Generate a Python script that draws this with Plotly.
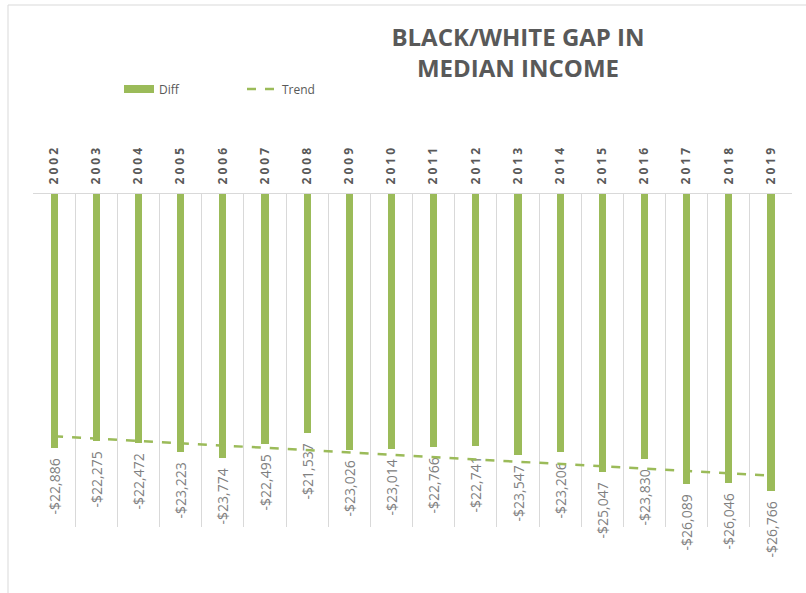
import numpy as np
import plotly.graph_objects as go

years = [2002, 2003, 2004, 2005, 2006, 2007, 2008, 2009, 2010,
         2011, 2012, 2013, 2014, 2015, 2016, 2017, 2018, 2019]
diff = [-22886, -22275, -22472, -23223, -23774, -22495, -21537, -23026, -23014,
        -22766, -22741, -23547, -23206, -25047, -23830, -26089, -26046, -26766]

GREEN = "#9BBB59"
GRAY = "#595959"
FONT = "Open Sans"

W, H = 806, 593
L, R, T, B = 33, 14, 194, 66
ph = H - T - B
pw = W - L - R

idx = list(range(len(years)))
labels = [f"-${abs(v):,}\u00a0\u00a0" for v in diff]
tick_text = [" ".join(str(y)) for y in years]

# linear trend (least squares, like a spreadsheet trendline)
coef = np.polyfit(idx, diff, 1)
trend = np.polyval(coef, idx)

fig = go.Figure()
# legend-only entry to get a wide bar swatch
fig.add_trace(go.Scatter(
    x=[None], y=[None], name="Diff", mode="lines",
    line=dict(color=GREEN, width=8), legendgroup="d",
))
fig.add_trace(go.Bar(
    x=idx, y=diff, name="Diff", width=0.17, showlegend=False, legendgroup="d",
    marker=dict(color=GREEN, line=dict(width=0)),
    text=labels, textposition="outside", textangle=-90,
    constraintext="none", cliponaxis=False,
    textfont=dict(family=FONT, size=14, color="#808080"),
))
fig.add_trace(go.Scatter(
    x=idx, y=trend, name="Trend", mode="lines",
    line=dict(color=GREEN, width=2.5, dash="dash"),
))

def px_x(p):
    return (p - L) / pw

def px_y(p):
    return (H - B - p) / ph

fig.update_layout(
    width=W, height=H,
    margin=dict(l=L, r=R, t=T, b=B, pad=0),
    paper_bgcolor="white", plot_bgcolor="white",
    font=dict(family=FONT, color=GRAY),
    title=dict(
        text="<b>BLACK/WHITE GAP IN<br>MEDIAN INCOME</b>",
        x=px_x(518), xref="paper", xanchor="center",
        y=1 - 46 / H, yref="container", yanchor="middle",
        font=dict(family=FONT, size=24, color=GRAY),
    ),
    showlegend=True,
    legend=dict(
        orientation="h", x=px_x(119), xanchor="left",
        y=px_y(89), yanchor="middle",
        font=dict(family=FONT, size=12, color=GRAY),
        entrywidth=78, itemwidth=30, bgcolor="rgba(0,0,0,0)",
    ),
    bargap=0,
    xaxis=dict(
        range=[-0.5, len(years) - 0.5], side="top",
        tickmode="array", tickvals=idx, ticktext=tick_text,
        tickangle=-90, ticks="", showgrid=False, zeroline=False,
        showline=True, linecolor="#D9D9D9", linewidth=1,
        ticklabelstandoff=6,
        tickfont=dict(family=FONT, size=12, color=GRAY, weight="bold"),
        minor=dict(tickvals=[i - 0.5 for i in range(len(years) + 1)],
                   showgrid=True, gridcolor="#D9D9D9", gridwidth=1, ticks=""),
    ),
    yaxis=dict(
        range=[-30000, 0], showticklabels=False, showgrid=False,
        zeroline=False, showline=False, ticks="",
    ),
    shapes=[dict(
        type="rect", xref="paper", yref="paper",
        x0=px_x(8), x1=px_x(830), y0=px_y(620), y1=px_y(5),
        line=dict(color="#D9D9D9", width=1), fillcolor="rgba(0,0,0,0)",
        layer="below",
    )],
)

fig.write_html("out.html")
